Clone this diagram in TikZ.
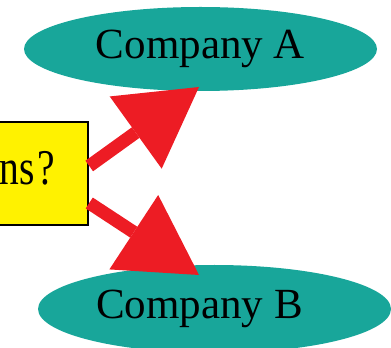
\documentclass[tikz,border=0pt]{standalone}
\usepackage{fontspec}
\setmainfont{Liberation Serif}
\newfontfamily\askfont[FakeStretch=0.79]{Liberation Serif}
\usetikzlibrary{arrows.meta,shapes.geometric}
\definecolor{compteal}{RGB}{24,166,154}
\definecolor{arrowred}{RGB}{237,28,36}
\definecolor{boxyellow}{RGB}{255,242,0}

\begin{document}
\begin{tikzpicture}[x=1pt, y=1pt,
    company/.style={ellipse, fill=compteal, minimum width=353pt, minimum height=84pt, inner sep=0pt, font=\fontsize{43}{48}\selectfont},
    question/.style={draw, line width=2.5pt, fill=boxyellow, minimum height=103pt, inner xsep=33pt, text width=130pt, align=right, text depth=11pt, font=\askfont\fontsize{50}{56}\selectfont},
    arrow/.style={-{Triangle[length=78pt, width=89pt, line width=0pt]}, line width=13pt, arrowred}
]
    \useasboundingbox (0,0) rectangle (391,348);
    \clip (0,0) rectangle (391,348);

    \node[question] (ask) at (-10,174.5) {\spaceskip 3pt\relax ns ?};
    \node[company] (compA) at (200.5,299) {Company A};
    \node[company, minimum height=88pt] (compB) at (214.5,39) {\kern-30pt Company B};

    % edges from the question box
    \draw[arrow] ([yshift=7.5pt]ask.east) -- ([shift={(-1.5pt,-38pt)}]compA.center);
    \draw[arrow] ([yshift=-29.5pt]ask.east) -- ([shift={(-15.5pt,34pt)}]compB.center);
\end{tikzpicture}
\end{document}
